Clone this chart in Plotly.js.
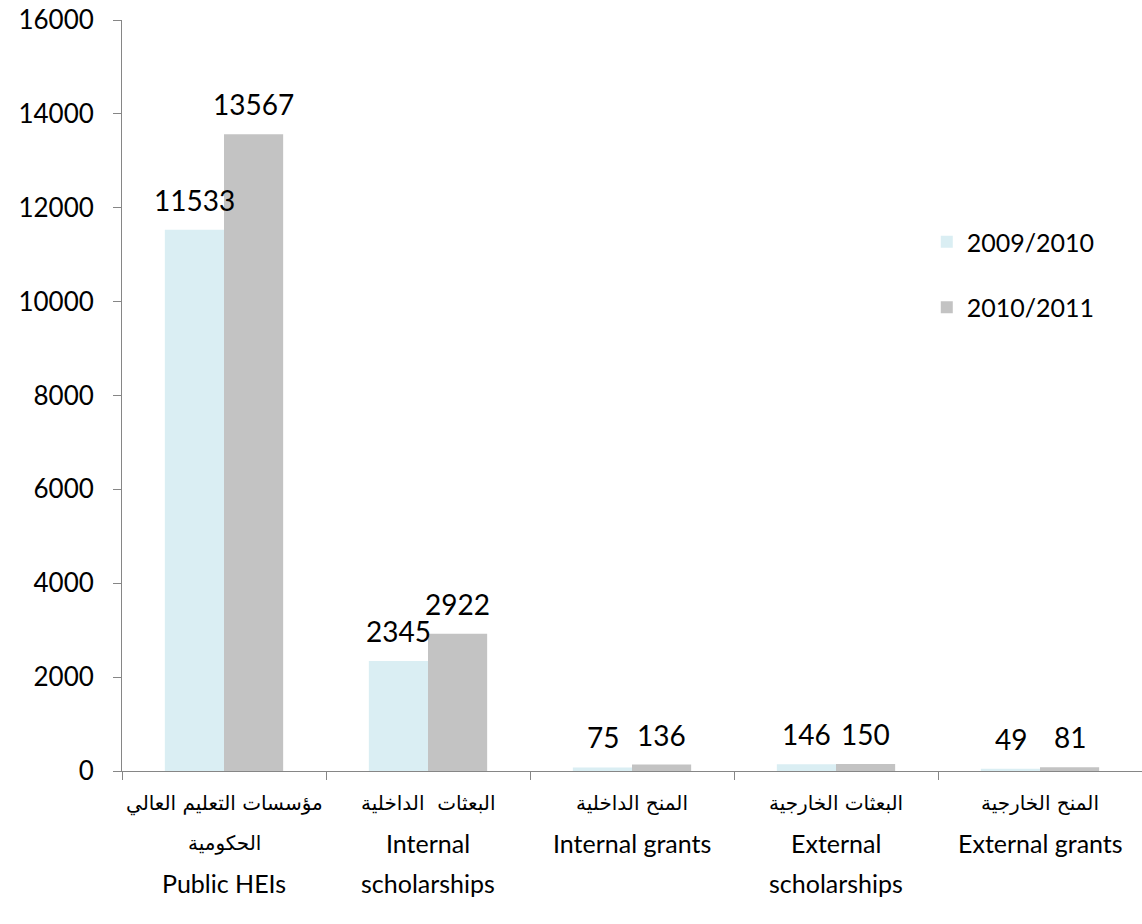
<!DOCTYPE html>
<html>
<head>
<meta charset="utf-8">
<script src="https://cdn.plot.ly/plotly-3.0.1.min.js"></script>
<style>html,body{margin:0;padding:0;background:#fff;}#chart{width:1142px;height:924px;}</style>
</head>
<body>
<div id="chart"></div>
<script>
// Data
const categories = ["Public HEIs", "Internal scholarships", "Internal grants", "External scholarships", "External grants"];
const labelLines = [
  ["مؤسسات التعليم العالي", "الحكومية", "Public HEIs"],
  ["البعثات  الداخلية", "Internal", "scholarships"],
  ["المنح الداخلية", "Internal grants"],
  ["البعثات الخارجية", "External", "scholarships"],
  ["المنح الخارجية", "External grants"]
];
const seriesNames = ["2009/2010", "2010/2011"];
const values2009 = [11533, 2345, 75, 146, 49];
const values2010 = [13567, 2922, 136, 150, 81];
const yTicks = [0, 2000, 4000, 6000, 8000, 10000, 12000, 14000, 16000];

const colors = ["#DAEEF3", "#C3C3C3"];
const FONT = "Lato, 'Open Sans', sans-serif";
const seriesVals = [values2009, values2010];

const traces = seriesNames.map((name, i) => ({
  type: "bar",
  name: name,
  x: categories,
  y: seriesVals[i],
  marker: {color: colors[i]},
  legendgroup: "g" + i,
  hoverinfo: "x+y+name"
}));

const isArabic = t => /[\u0600-\u06FF]/.test(t);
const annotations = [];
// value labels
seriesVals.forEach((vals, i) => {
  vals.forEach((v, j) => {
    annotations.push({
      x: categories[j], y: v, xref: "x", yref: "y",
      text: String(v), showarrow: false,
      xanchor: "center", yanchor: "bottom",
      xshift: i === 0 ? -29.5 : 29.5, yshift: 11,
      font: {family: FONT, size: 28, color: "#000"}
    });
  });
});
// category labels
labelLines.forEach((lines, j) => {
  lines.forEach((t, k) => {
    annotations.push({
      x: categories[j], y: 0, xref: "x", yref: "paper",
      text: t, showarrow: false,
      xanchor: "center", yanchor: "middle",
      yshift: -32 - 40 * k,
      font: {family: isArabic(t) ? "'DejaVu Sans', sans-serif" : FONT,
             size: isArabic(t) ? 20 : 25, color: "#000"}
    });
  });
});

const layout = {
  width: 1142, height: 924,
  margin: {l: 122, r: 0, t: 20, b: 153},
  paper_bgcolor: "#fff", plot_bgcolor: "#fff",
  barmode: "group", bargap: 0.42, bargroupgap: 0,
  font: {family: FONT, color: "#000"},
  xaxis: {
    type: "category", range: [-0.5, 4.5],
    showline: true, linecolor: "#868686", linewidth: 1,
    ticks: "outside", tickson: "boundaries", ticklen: 8, tickcolor: "#868686",
    showticklabels: false, showgrid: false, zeroline: false, fixedrange: true
  },
  yaxis: {
    range: [0, 16000], tickvals: yTicks, ticktext: yTicks.map(String),
    showline: true, linecolor: "#868686", linewidth: 1,
    ticks: "outside", ticklen: 8, tickcolor: "#868686",
    tickfont: {family: FONT, size: 26, color: "#000"},
    ticklabelstandoff: 14,
    showgrid: false, zeroline: false, fixedrange: true
  },
  showlegend: true,
  legend: {
    x: 0.789, y: 0.735, xanchor: "left", yanchor: "top",
    font: {family: FONT, size: 25, color: "#000"},
    tracegroupgap: 30, bgcolor: "rgba(0,0,0,0)"
  },
  annotations: annotations
};

Plotly.newPlot("chart", traces, layout, {displayModeBar: false, staticPlot: true});
</script>
</body>
</html>
